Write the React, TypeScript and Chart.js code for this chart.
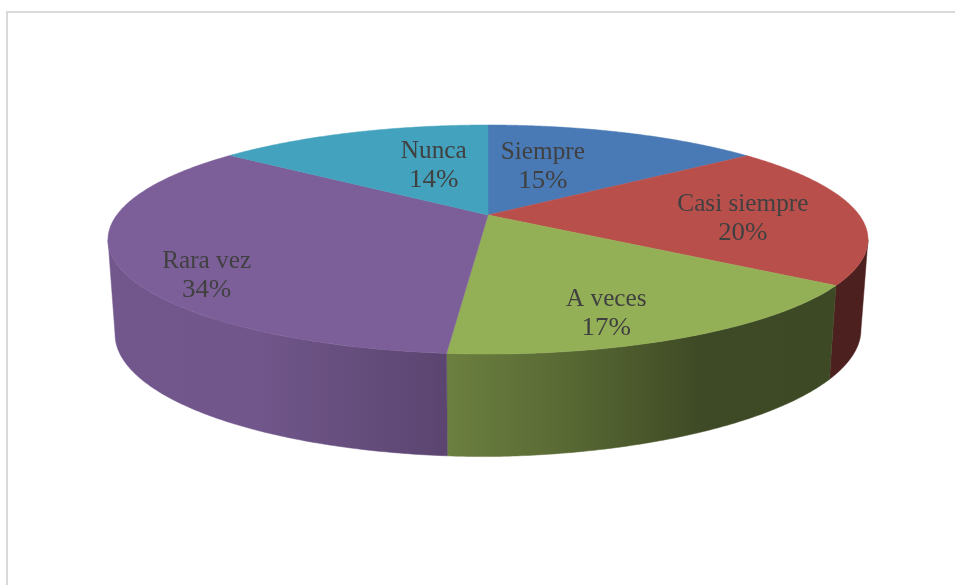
import React, { useEffect, useRef } from "react";
import { Chart, registerables } from "chart.js";

Chart.register(...registerables);

const categories = ["Siempre", "Casi siempre", "A veces", "Rara vez", "Nunca"];
const values = [14.5, 20.1, 16.8, 34.2, 14.4];
const percentLabels = ["15%", "20%", "17%", "34%", "14%"];
const sliceColors = ["#4a7ab5", "#b94f4b", "#94b057", "#7c5f99", "#43a2bd"];

// projection of the pie disc on to the page
const TOP = { cx: 488, cy: 215, a: 371.2, b: 109.26 };
const BOTTOM = { cx: 488, cy: 308, a: 364.3, b: 116.8 };
const K = 0.214;
const RIGHT_TILT = 0.012;
const FRONT_START = Math.acos(-K);
const FRONT_END = 2 * Math.PI - FRONT_START;
// pixel nudge of each data label from its slice's mid-angle anchor
const labelNudges = [
  [-33, 4],
  [33, 5],
  [11, 31],
  [-66, 33],
  [33, 3],
];
const wallShade: [number, number][] = [
  [108, 0.92],
  [260, 0.9],
  [446, 0.73],
  [580, 0.58],
  [700, 0.42],
  [870, 0.41],
];

function project(theta: number, r: number, f: typeof TOP) {
  const u = r * Math.sin(theta);
  const v = r * Math.cos(theta);
  const w = 1 + K * v;
  const x = f.cx + (f.a * u) / w;
  let y = f.cy - (f.b * v) / w;
  if (f === BOTTOM && x > f.cx) y -= (x - f.cx) * RIGHT_TILT;
  return { x, y };
}

function shade(hex: string, m: number) {
  const n = parseInt(hex.slice(1), 16);
  const c = [(n >> 16) & 255, (n >> 8) & 255, n & 255].map((v) => Math.round(v * m));
  return `rgb(${c[0]},${c[1]},${c[2]})`;
}

function drawScaled(ctx: CanvasRenderingContext2D, text: string, x: number, y: number, sx: number) {
  ctx.save();
  ctx.translate(x, y);
  ctx.scale(sx, 1);
  ctx.fillText(text, 0, 0);
  ctx.restore();
}

const pie3d = {
  id: "pie3d",
  beforeDraw(chart: Chart) {
    const ctx = chart.ctx;
    ctx.save();
    ctx.fillStyle = "#ffffff";
    ctx.fillRect(0, 0, chart.width, chart.height);
    ctx.fillStyle = "#d9d9d9";
    ctx.fillRect(6, 11, chart.width - 6, 2);
    ctx.fillRect(6, 11, 2, chart.height - 11);
    ctx.restore();
  },
  beforeDatasetsDraw(chart: Chart) {
    const ctx = chart.ctx;
    const arcs = chart.getDatasetMeta(0).data as any[];
    const colors = chart.data.datasets[0].backgroundColor as string[];
    const angles = arcs.map((a) => {
      const p = a.getProps(["startAngle", "endAngle"], true);
      return [p.startAngle + Math.PI / 2, p.endAngle + Math.PI / 2];
    });
    ctx.save();
    // side walls
    angles.forEach(([s, e], i) => {
      const from = Math.max(s, FRONT_START);
      const to = Math.min(e, FRONT_END);
      if (to <= from) return;
      const grad = ctx.createLinearGradient(108, 0, 870, 0);
      wallShade.forEach(([x, m]) => grad.addColorStop((x - 108) / 762, shade(colors[i], m)));
      ctx.beginPath();
      const steps = 120;
      for (let j = 0; j <= steps; j++) {
        const p = project(from + ((to - from) * j) / steps, 1, TOP);
        if (j === 0) ctx.moveTo(p.x, p.y);
        else ctx.lineTo(p.x, p.y);
      }
      for (let j = steps; j >= 0; j--) {
        const p = project(from + ((to - from) * j) / steps, 1, BOTTOM);
        ctx.lineTo(p.x, p.y);
      }
      ctx.closePath();
      ctx.fillStyle = grad;
      ctx.strokeStyle = grad;
      ctx.lineWidth = 0.5;
      ctx.fill();
      ctx.stroke();
    });
    // top face
    angles.forEach(([s, e], i) => {
      ctx.beginPath();
      ctx.moveTo(TOP.cx, TOP.cy);
      const steps = 160;
      for (let j = 0; j <= steps; j++) {
        const p = project(s + ((e - s) * j) / steps, 1, TOP);
        ctx.lineTo(p.x, p.y);
      }
      ctx.closePath();
      ctx.fillStyle = colors[i];
      ctx.strokeStyle = colors[i];
      ctx.lineWidth = 0.5;
      ctx.fill();
      ctx.stroke();
    });
    // data labels
    ctx.fillStyle = "#404040";
    ctx.font = '24.5px "Liberation Serif"';
    ctx.textAlign = "center";
    ctx.textBaseline = "middle";
    angles.forEach(([s, e], i) => {
      const p = project((s + e) / 2, 0.6, TOP);
      const x = p.x + labelNudges[i][0];
      const y = p.y + labelNudges[i][1];
      drawScaled(ctx, String(chart.data.labels![i]), x, y - 14, 1.03);
      drawScaled(ctx, percentLabels[i], x, y + 15, 1.1);
    });
    ctx.restore();
    return false;
  },
};

export default function App() {
  const ref = useRef<HTMLCanvasElement>(null);
  useEffect(() => {
    const chart = new Chart(ref.current!, {
      type: "pie",
      data: {
        labels: categories,
        datasets: [{ data: values, backgroundColor: sliceColors, borderWidth: 0 }],
      },
      options: {
        animation: false,
        responsive: false,
        plugins: { legend: { display: false }, tooltip: { enabled: false } },
      },
      plugins: [pie3d as any],
    });
    return () => chart.destroy();
  }, []);
  return (
    <canvas
      ref={ref}
      width={955}
      height={585}
      style={{ position: "fixed", left: 0, top: 0, width: 955, height: 585, filter: "blur(0.4px)" }}
    />
  );
}
